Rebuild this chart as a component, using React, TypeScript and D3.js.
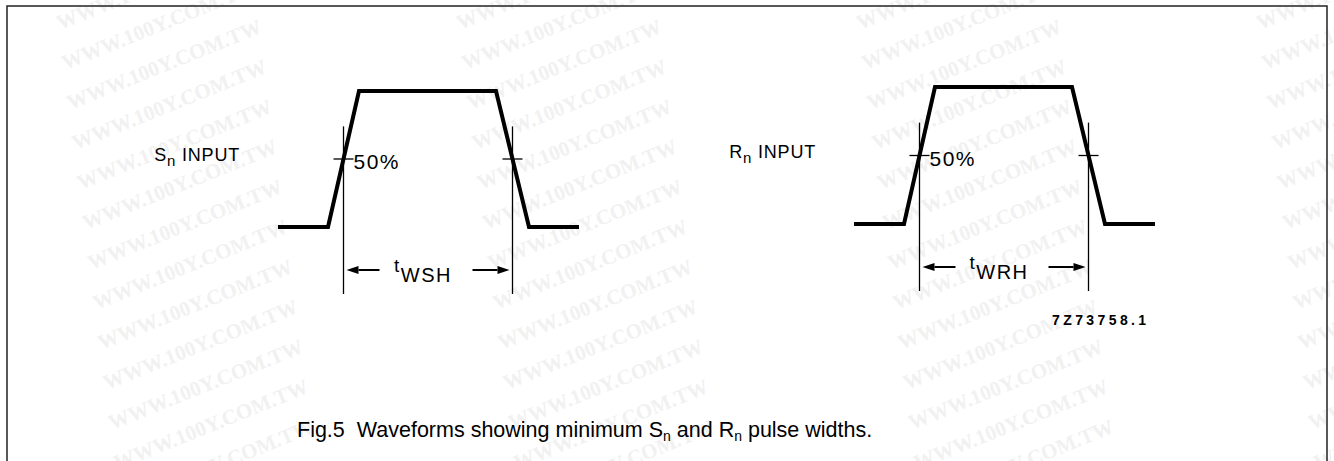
import React from 'react';
import * as d3 from 'd3';

const width = 1334, height = 461;

// one pulse, in time units (x) and logic level (0 = low, 1 = high)
const pulseTimes = [0, 50, 81, 218, 251, 301];
const pulseLevels = [0, 0, 1, 1, 0, 0];

// the two panels: input name and width-symbol subscript
const inputNames = ['S', 'R'];
const widthNames = ['WSH', 'WRH'];
const thresholdLevel = 0.5;
const thresholdLabel = '50%';

const figureCode = '7Z73758.1';
const captionParts = ['Fig.5  Waveforms showing minimum ', 'S', 'n', ' and ', 'R', 'n', ' pulse widths.'];
const watermark = 'WWW.100Y.COM.TW';

// layout of each panel: where time 0 sits and where level 0 / 1 sit
const panelLayout = [
    { x0: 278, yLow: 227, yHigh: 91 },
    { x0: 854, yLow: 224, yHigh: 87 }
];

const labelFont = "'Liberation Sans', Arial, sans-serif";

// find where the waveform crosses a level (linear between points)
function crossings(level: number) {
    const out: number[] = [];
    for (let i = 1; i < pulseTimes.length; i++) {
        const a = pulseLevels[i - 1], b = pulseLevels[i];
        if ((a - level) * (b - level) < 0) {
            const t = (level - a) / (b - a);
            out.push(pulseTimes[i - 1] + t * (pulseTimes[i] - pulseTimes[i - 1]));
        }
    }
    return out;
}

function Arrow({ x1, x2, y }: { x1: number, x2: number, y: number }) {
    // x2 is the tip
    const dir = x2 > x1 ? 1 : -1;
    const head = 12;
    return (
        <g>
            <line x1={x1} y1={y} x2={x2 - dir * head} y2={y} stroke="#000" strokeWidth={2} />
            <path d={`M${x2},${y} L${x2 - dir * head},${y - 4} L${x2 - dir * head},${y + 4} Z`} fill="#000" />
        </g>
    );
}

function Panel({ idx }: { idx: number }) {
    const lay = panelLayout[idx];
    const x = d3.scaleLinear().domain([0, d3.max(pulseTimes) as number]).range([lay.x0, lay.x0 + 301]);
    const y = d3.scaleLinear().domain([0, 1]).range([lay.yLow, lay.yHigh]);
    const line = d3.line<number>().x((d, i) => x(pulseTimes[i])).y(d => y(d));
    const [tRise, tFall] = crossings(thresholdLevel);
    const xr = x(tRise), xf = x(tFall);
    const yMid = y(thresholdLevel);
    const yDim = y(0) + 43;
    const yExtTop = y(0.74);
    const mid = (xr + xf) / 2;

    return (
        <g>
            <path d={line(pulseLevels) || ''} fill="none" stroke="#000" strokeWidth={4} strokeLinejoin="miter" />
            {[xr, xf].map((cx, i) => (
                <g key={i}>
                    <line x1={cx} y1={yExtTop} x2={cx} y2={yDim + 24} stroke="#000" strokeWidth={1.3} />
                    <line x1={cx - 10} y1={yMid} x2={cx + 10} y2={yMid} stroke="#000" strokeWidth={1.3} />
                </g>
            ))}
            <text x={x(0) - 38} y={y(0.5) + 2} textAnchor="end" fontFamily={labelFont} fontSize={18} letterSpacing={0.8}>
                {inputNames[idx]}
                <tspan fontSize={15} dy={5}>n</tspan>
                <tspan dy={-5}> INPUT</tspan>
            </text>
            <text x={xr + 10} y={yMid + 10} fontFamily={labelFont} fontSize={21} letterSpacing={1.5}>{thresholdLabel}</text>
            <Arrow x1={xr + 36} x2={xr + 3} y={yDim} />
            <Arrow x1={xf - 40} x2={xf - 3} y={yDim} />
            <text x={mid - 5} y={yDim + 2} textAnchor="middle" fontFamily={labelFont} fontSize={19} letterSpacing={1.5}>
                t<tspan dy={10} fontSize={20}>{widthNames[idx]}</tspan>
            </text>
        </g>
    );
}

export default function App() {
    // watermark grid, purely decorative
    const wmCols = d3.range(4).map(i => 60 + i * 400);
    const wmRows = d3.range(-1, 13).map(i => i * 40);
    return (
        <svg width={width} height={height} viewBox={`0 0 ${width} ${height}`}
            style={{ position: 'absolute', left: 0, top: 0, background: '#fff' }}>
            <rect x={0} y={0} width={width} height={height} fill="#fff" />
            <g fill="#f1f1f1" fontFamily="'Liberation Serif', 'Times New Roman', serif" fontWeight="bold" fontSize={21}>
                {wmCols.map(cx => wmRows.map(ry => (
                    <text key={`${cx}-${ry}`} x={cx + ry * 0.13} y={ry + 30}
                        transform={`rotate(-22 ${cx + ry * 0.13} ${ry + 30})`}>{watermark}</text>
                )))}
            </g>
            <path d={`M7,${height} V6 H1327 V${height}`} fill="none" stroke="#222" strokeWidth={1.5} />
            <Panel idx={0} />
            <Panel idx={1} />
            <text x={1052} y={325} fontFamily={labelFont} fontWeight="bold" fontSize={14} letterSpacing={3.4}>{figureCode}</text>
            <text x={297} y={437} fontFamily={labelFont} fontSize={21.5} style={{ whiteSpace: 'pre' }}>
                {captionParts[0]}{captionParts[1]}
                <tspan fontSize={14} dy={4}>{captionParts[2]}</tspan>
                <tspan dy={-4}>{captionParts[3]}{captionParts[4]}</tspan>
                <tspan fontSize={14} dy={4}>{captionParts[5]}</tspan>
                <tspan dy={-4}>{captionParts[6]}</tspan>
            </text>
        </svg>
    );
}
